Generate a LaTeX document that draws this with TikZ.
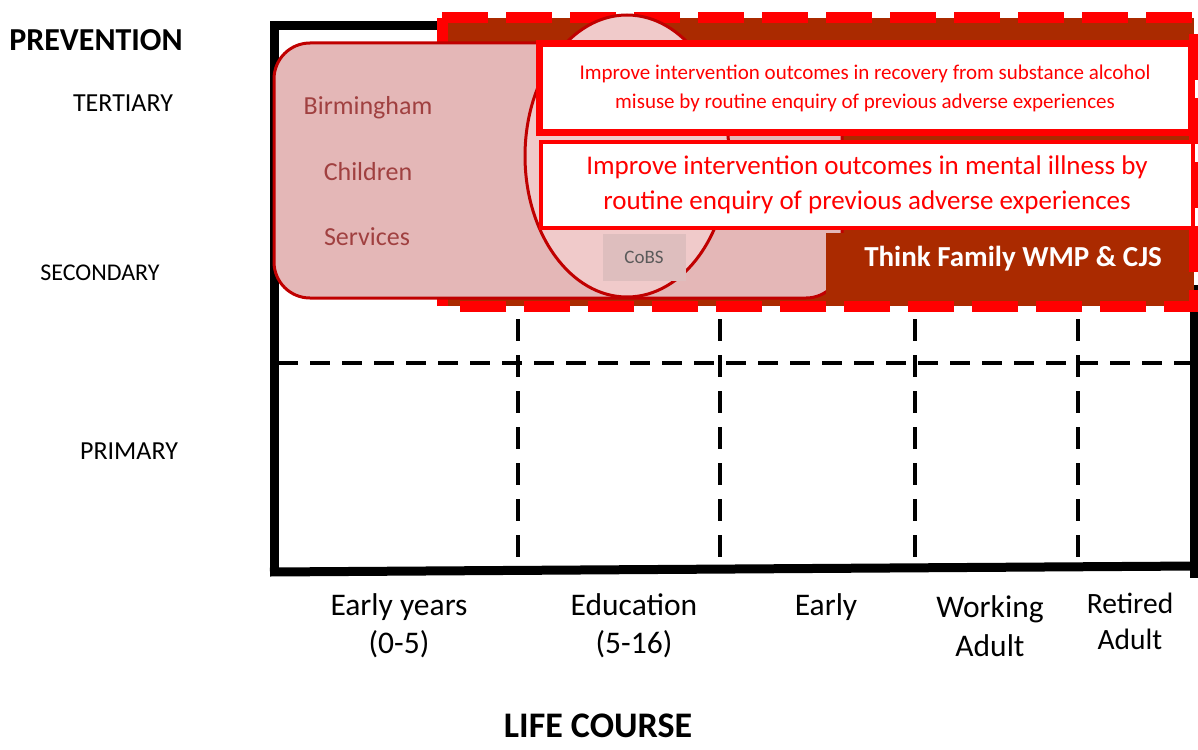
\documentclass[tikz,border=0pt]{standalone}
\usepackage{fontspec}
\setmainfont{Carlito}
\definecolor{brickred}{RGB}{170,42,0}
\definecolor{pinkfill}{RGB}{228,183,183}
\definecolor{pinkline}{RGB}{192,0,0}
\definecolor{ellfill}{RGB}{240,202,202}
\definecolor{pinktext}{RGB}{160,64,64}
\definecolor{cobsfill}{RGB}{222,190,190}
\definecolor{cobstext}{RGB}{90,90,90}
\definecolor{brightred}{RGB}{255,0,0}
\tikzset{
  fs/.style={font=\fontsize{#1}{#1}\selectfont},
  fsb/.style={font=\fontsize{#1}{#1}\selectfont\bfseries},
  frame/.style={line width=9pt, black},
  gridline/.style={line width=4pt, black, dash pattern=on 20pt off 12pt},
  vgrid/.style={line width=4pt, black, dash pattern=on 22pt off 14pt},
  sidelabel/.style={anchor=center, inner sep=0pt},
  pinklabel/.style={text=pinktext, fs=26, inner sep=0pt},
  whitebox/.style={draw=brightred, fill=white, text=brightred, align=center, inner sep=0pt},
  axislabel/.style={align=center, inner sep=0pt}
}
\begin{document}
\begin{tikzpicture}[x=1pt,y=-1pt]
\useasboundingbox (0,0) rectangle (1198,749);
% black frame
\draw[frame] (274,568) -- (274,26) -- (445,26);
\draw[frame] (270,572) -- (1198,566);
\draw[frame] (1194,285) -- (1194,578);
% dashed grid
\draw[gridline] (278,363) -- (1198,363);
\foreach \x in {518,720,915,1078} {
  \draw[vgrid] (\x,319) -- (\x,566);
}
% Think Family dashed box
\fill[brickred] (442,18) rectangle (1194,306);
\draw[brightred, line width=11pt, dash pattern=on 46pt off 18pt] (442,18) -- (1194,18) -- (1194,306) -- (442,306) -- cycle;
% Birmingham Children Services box
\draw[pinkline, fill=pinkfill, line width=3pt, rounded corners=36pt] (274,43) rectangle (842,298);
\node[pinklabel] (bham) at (368,108) {Birmingham};
\node[pinklabel] (child) at (368,172) {Children};
\node[pinklabel] (serv) at (367,237) {Services};
% CoBS ellipse
\draw[pinkline, fill=ellfill, line width=3pt] (627,156) ellipse [x radius=102, y radius=141];
\node[fill=cobsfill, minimum width=83pt, minimum height=47pt, inner sep=0pt, text=cobstext, fs=19] (cobs) at (644,257) {CoBS};
% Think family label
\fill[brickred] (826,233) rectangle (1188,298);
\node[text=white, fsb=29, inner sep=0pt] (tf) at (1013,259) {Think Family WMP \& CJS};
% white boxes
\node[whitebox, line width=7pt, minimum width=652pt, minimum height=88pt, font=\fontsize{21}{29}\selectfont] (box1) at (865,88)
  {Improve intervention outcomes in recovery from substance alcohol\\ misuse by routine enquiry of previous adverse experiences};
\node[whitebox, line width=4pt, minimum width=652pt, minimum height=86pt, font=\fontsize{27}{35}\selectfont] (box2) at (867,185)
  {Improve intervention outcomes in mental illness by\\ routine enquiry of previous adverse experiences};
% side labels
\node[sidelabel, fsb=32] (prev) at (96,40) {PREVENTION};
\node[sidelabel, fs=26] (tert) at (123,103) {TERTIARY};
\node[sidelabel, fs=24] (sec) at (100,273) {SECONDARY};
\node[sidelabel, fs=26] (prim) at (129,451) {PRIMARY};
% axis labels
\node[axislabel, font=\fontsize{31.5}{38}\selectfont] (ey) at (399,626) {Early years\\(0-5)};
\node[axislabel, font=\fontsize{31.5}{38}\selectfont] (ed) at (634,626) {Education\\(5-16)};
\node[axislabel, font=\fontsize{31.5}{38}\selectfont] (ea) at (826,607) {Early};
\node[axislabel, font=\fontsize{31.5}{39}\selectfont] (wa) at (990,626) {Working\\Adult};
\node[axislabel, font=\fontsize{29.5}{36}\selectfont] (ra) at (1130,621) {Retired\\Adult};
\node[inner sep=0pt, anchor=base, fsb=36] (lc) at (598,737) {LIFE COURSE};
\end{tikzpicture}
\end{document}
